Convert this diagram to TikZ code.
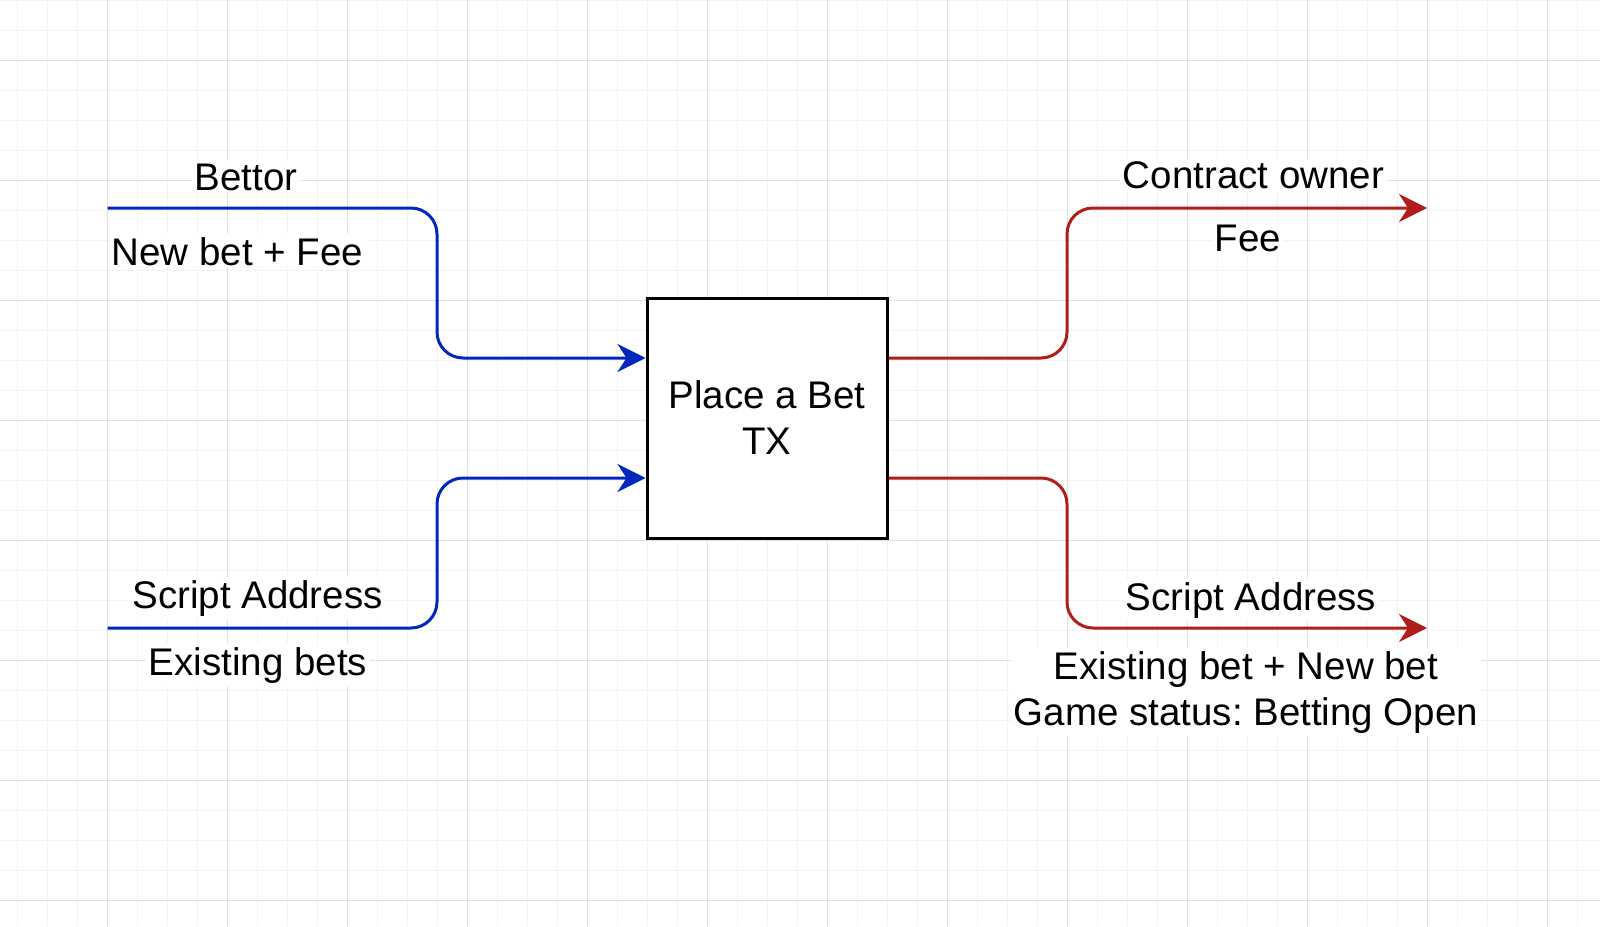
\documentclass[tikz,border=0pt]{standalone}
\usepackage{fontspec}
\setmainfont{Liberation Sans}
\usetikzlibrary{arrows.meta}
\definecolor{flowblue}{RGB}{0,40,190}
\definecolor{flowred}{RGB}{175,30,25}
\definecolor{gridmajor}{RGB}{225,225,225}
\definecolor{gridminor}{RGB}{243,243,243}
\frenchspacing
\begin{document}
\begin{tikzpicture}[x=1pt,y=-1pt,
  txt/.style={font=\fontsize{38.5}{46}\selectfont},
  lbl/.style={txt, fill=white, inner xsep=3pt, inner ysep=3pt, anchor=base, align=center},
  txbox/.style={txt, draw=black, line width=3pt, fill=white, minimum size=240pt, inner sep=0pt, align=center},
  flow/.style={line width=3pt, rounded corners=26pt, -{Stealth[length=28pt,width=28pt,inset=9pt]}},
  bluearrow/.style={flow, draw=flowblue},
  redarrow/.style={flow, draw=flowred},
  minorline/.style={draw=gridminor, line width=1pt},
  majorline/.style={draw=gridmajor, line width=1pt}]
\useasboundingbox (0,0) rectangle (1600,926);
\fill[white] (0,0) rectangle (1600,926);
% grid
\foreach \gx in {0,...,53} {\draw[minorline] ({17.5+30*\gx},0) -- ({17.5+30*\gx},926);}
\foreach \gy in {0,...,30} {\draw[minorline] (0,{30*\gy}) -- (1600,{30*\gy});}
\foreach \gx in {0,...,12} {\draw[majorline] ({107.5+120*\gx},0) -- ({107.5+120*\gx},926);}
\foreach \gy in {0,...,7} {\draw[majorline] (0,{60+120*\gy}) -- (1600,{60+120*\gy});}
% central box
\node[txbox] (tx) at (767,418) {Place a Bet\\TX};
% free ends
\coordinate (b1s) at (107.5,208);
\coordinate (b2s) at (107.5,628);
\coordinate (r1e) at (1427,208);
\coordinate (r2e) at (1427,628);
% connectors
\draw[bluearrow] (b1s) -- (437,208) -- (437,358) -- ([yshift=60pt]tx.west);
\draw[bluearrow] (b2s) -- (437,628) -- (437,478) -- ([yshift=-60pt]tx.west);
\draw[redarrow] ([yshift=60pt]tx.east) -- (1067,358) -- (1067,208) -- (r1e);
\draw[redarrow] ([yshift=-60pt]tx.east) -- (1067,478) -- (1067,628) -- (r2e);
% labels
\node[lbl] (bettor) at (246,190) {Bettor};
\node[lbl] (newbet) at (237.5,265) {New bet + Fee};
\node[lbl] (scriptL) at (257.5,608) {Script Address};
\node[lbl] (existing) at (258,675) {Existing bets};
\node[lbl] (owner) at (1253.5,188.5) {Contract owner};
\node[lbl] (fee) at (1248,251.5) {Fee};
\node[lbl] (scriptR) at (1251,610) {Script Address};
\node[lbl] (newstate) at (1246,725) {Existing bet + New bet\\Game status: Betting Open};
\end{tikzpicture}
\end{document}
